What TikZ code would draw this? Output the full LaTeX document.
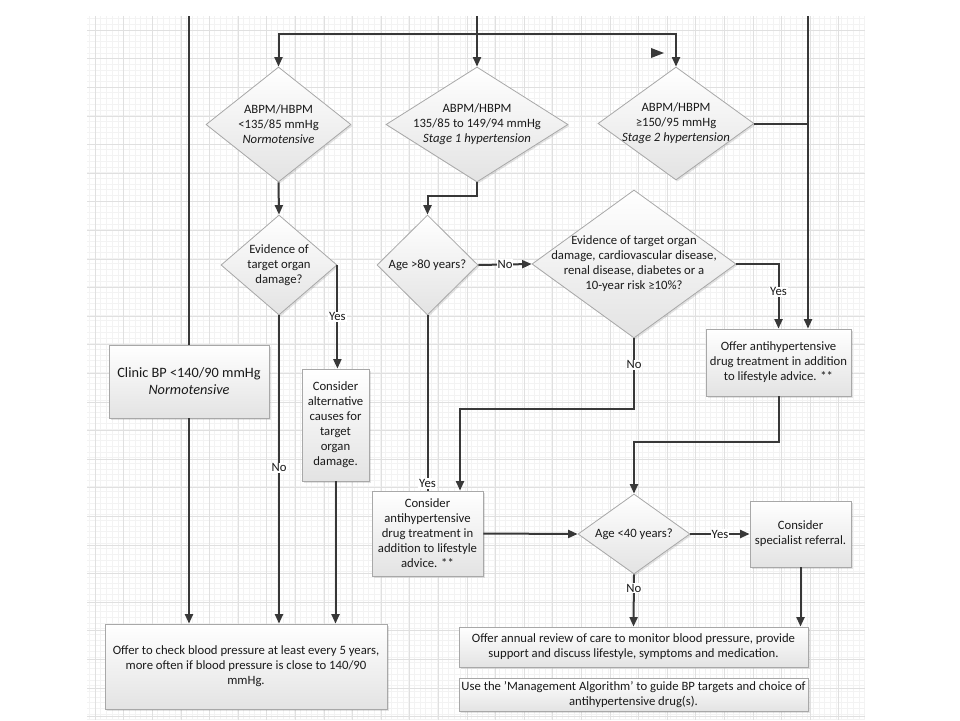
\documentclass[tikz,border=0pt]{standalone}
\usepackage{fontspec}
\setmainfont{Carlito}
\usetikzlibrary{arrows.meta,shapes.geometric,shadows}
\definecolor{ln}{HTML}{383838}
\definecolor{txt}{HTML}{1A1A1A}
\definecolor{bord}{HTML}{A8A8A8}
\definecolor{gmin}{HTML}{F3F3F3}
\definecolor{gmaj}{HTML}{E0E0E0}
\begin{document}
\begin{tikzpicture}[x=1pt,y=-1pt,
  base/.style={draw=bord, line width=0.8pt, top color=white, bottom color=black!11,
    text=txt, align=center, inner sep=2pt,
    drop shadow={opacity=0.22, shadow xshift=1.5pt, shadow yshift=-1.5pt},
    font=\fontsize{12.7}{15}\selectfont},
  boxnode/.style={base, rectangle},
  dia/.style={base, diamond, inner sep=0pt},
  dlbl/.style={text=txt, align=center, font=\fontsize{12.7}{15}\selectfont},
  conn/.style={draw=ln, line width=2pt},
  arr/.style={conn, -{Triangle[length=9.5pt,width=8pt]}},
  lab/.style={fill=white, inner sep=1pt, text=txt, font=\fontsize{12.7}{14}\selectfont}]
\useasboundingbox (0,0) rectangle (960,720);
\fill[white] (0,0) rectangle (960,720);
% grid
\foreach \x in {89.3,95.0,...,865} \draw[gmin, line width=0.5pt] (\x,16) -- (\x,720);
\foreach \y in {18.6,24.3,...,720} \draw[gmin, line width=0.5pt] (87,\y) -- (865,\y);
\foreach \x in {95,123.6,...,865} \draw[gmaj, line width=0.6pt] (\x,16) -- (\x,720);
\foreach \y in {30,58.6,...,720} \draw[gmaj, line width=0.6pt] (87,\y) -- (865,\y);

% diamonds
\node[dia, minimum width=145, minimum height=115,
  label={[dlbl]center:{ABPM/HBPM\\<135/85 mmHg\\\textit{Normotensive}}}] (d1) at (278.5,124.5) {};
\node[dia, minimum width=182, minimum height=115,
  label={[dlbl]center:{ABPM/HBPM\\135/85 to 149/94 mmHg\\\textit{Stage 1 hypertension}}}] (d2) at (477,124.5) {};
\node[dia, minimum width=156, minimum height=113,
  label={[dlbl]center:{ABPM/HBPM\\≥150/95 mmHg\\\textit{Stage 2 hypertension}}}] (d3) at (676,123.5) {};
\node[dia, minimum width=116, minimum height=100,
  label={[dlbl]center:{Evidence of\\target organ\\damage?}}] (d4) at (279,265) {};
\node[dia, minimum width=101, minimum height=100,
  label={[dlbl]center:{Age >80 years?}}] (d5) at (427.5,265) {};
\node[dia, minimum width=204, minimum height=148,
  label={[dlbl]center:{Evidence of target organ\\damage, cardiovascular disease,\\renal disease, diabetes or a\\10-year risk ≥10\%?}}] (d6) at (634,264) {};
\node[dia, minimum width=112, minimum height=80,
  label={[dlbl]center:{Age <40 years?}}] (d9) at (634,534) {};

% boxes
\node[boxnode, minimum width=160, minimum height=73, font=\fontsize{14.3}{17}\selectfont] (b3) at (189,381.5)
  {Clinic BP <140/90 mmHg\\\textit{Normotensive}};
\node[boxnode, minimum width=67, minimum height=112] (b14) at (335.5,425)
  {Consider\\alternative\\causes for\\target\\organ\\damage.};
\node[boxnode, minimum width=282, minimum height=85] (b13) at (246,666.5)
  {Offer to check blood pressure at least every 5 years,\\more often if blood pressure is close to 140/90\\mmHg.};
\node[boxnode, minimum width=111, minimum height=85] (b8) at (427.5,533.5)
  {Consider\\antihypertensive\\drug treatment in\\addition to lifestyle\\advice. **};
\node[boxnode, minimum width=145, minimum height=67] (b7) at (778.5,362.5)
  {Offer antihypertensive\\drug treatment in addition\\to lifestyle advice. **};
\node[boxnode, minimum width=101, minimum height=66] (b10) at (800.5,534)
  {Consider\\specialist referral.};
\node[boxnode, minimum width=349, minimum height=40] (b11) at (633.5,647)
  {Offer annual review of care to monitor blood pressure, provide\\support and discuss lifestyle, symptoms and medication.};
\node[boxnode, minimum width=349, minimum height=33] (b12) at (633.5,694.5)
  {Use the 'Management Algorithm' to guide BP targets and choice of\\antihypertensive drug(s).};

% free ends
\coordinate (t1) at (189,16);
\coordinate (t2) at (477,16);
\coordinate (t3) at (808,16);
\coordinate (j) at (477,34);

% connectors
\draw[conn] (t1) -- (b3.north -| t1);
\draw[arr] (b3.south -| t1) -- (b13.north -| t1);
\draw[arr] (t2) -- (d2.north);
\draw[arr] (j) -| (d1.north);
\draw[arr] (j) -| (d3.north);
\fill[ln] (651,48) -- (664,53) -- (651,58) -- cycle;
\draw[arr] (t3) -- (b7.north -| t3);
\draw[conn] (d3.east) -- (d3.east -| t3);
\draw[arr] (d1.south) -- (d4.north);
\draw[arr] (d2.south) -- ++(0,14) -| (d5.north);
\draw[arr] (d5.east) -- node[lab]{No} (d6.west);
\draw[arr] (d6.east) -| node[lab, pos=0.715]{Yes} (b7.north);
\draw[arr] (d6.south) -- node[lab, pos=0.37]{No} ++(0,71) -| ([xshift=32.5]b8.north);
\draw[conn] (d5.south) -- node[lab, pos=0.96]{Yes} (d5.south |- b8.north);
\draw[arr] (d4.south) -- node[lab, pos=0.495]{No} (d4.south |- b13.north);
\draw[arr] (d4.east) -- node[lab, pos=0.5]{Yes} (d4.east |- b14.north);
\draw[arr] (b14.south) -- (b14.south |- b13.north);
\draw[arr] (b8.east) -- (d9.west);
\draw[arr] (b7.south) -- ++(0,46) -| (d9.north);
\draw[arr] (d9.east) -- node[lab]{Yes} (b10.west);
\draw[arr] (d9.south) -- node[lab, pos=0.26]{No} (b11.north);
\draw[arr] (b10.south) -- (b10.south |- b11.north);
\end{tikzpicture}
\end{document}
